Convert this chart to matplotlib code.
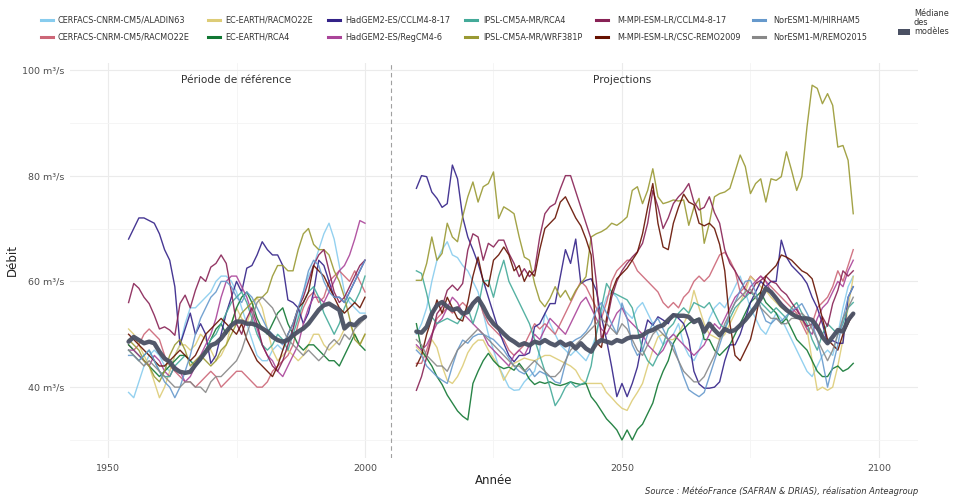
import numpy as np
import matplotlib
matplotlib.use("Agg")
import matplotlib.pyplot as plt
from matplotlib.lines import Line2D
from matplotlib.patches import Rectangle

# ---------------------------------------------------------------- data
years_ref = np.arange(1954, 2001)
years_proj = np.arange(2010, 2096)

model_names = [
    "CERFACS-CNRM-CM5/ALADIN63", "CERFACS-CNRM-CM5/RACMO22E",
    "EC-EARTH/RACMO22E", "EC-EARTH/RCA4",
    "HadGEM2-ES/CCLM4-8-17", "HadGEM2-ES/RegCM4-6",
    "IPSL-CM5A-MR/RCA4", "IPSL-CM5A-MR/WRF381P",
    "M-MPI-ESM-LR/CCLM4-8-17", "M-MPI-ESM-LR/CSC-REMO2009",
    "NorESM1-M/HIRHAM5", "NorESM1-M/REMO2015",
]
model_colors = ["#88CCEE", "#CC6677", "#DDCC77", "#117733", "#332288", "#AA4499",
                "#44AA99", "#999933", "#882255", "#661100", "#6699CC", "#888888"]

# reference period 1954-2000 (m3/s)
ref_aladin = [39, 38, 41, 44, 46, 47, 46, 44, 43, 46,
              48, 52, 55, 55, 56, 57, 58, 60, 61, 61,
              60, 58, 55, 52, 49, 46, 45, 45, 47, 48,
              47, 49, 51, 54, 58, 61, 63, 66, 69, 71,
              68, 63, 58, 56, 55, 54, 54]
ref_cnrm_racmo = [48, 47, 48, 50, 51, 50, 49, 46, 44, 43,
                  42, 41, 41, 40, 41, 42, 43, 42, 40, 41,
                  42, 43, 43, 42, 41, 40, 40, 41, 43, 44,
                  45, 46, 48, 52, 55, 57, 58, 56, 57, 60,
                  61, 62, 61, 60, 62, 60, 58]
ref_ec_racmo = [51, 50, 48, 46, 44, 41, 38, 40, 43, 46,
                48, 48, 47, 48, 50, 49, 47, 45, 46, 48,
                52, 55, 53, 52, 55, 57, 55, 51, 47, 45,
                46, 47, 46, 45, 46, 48, 50, 50, 48, 47,
                48, 49, 51, 52, 50, 48, 50]
ref_ec_rca = [48, 47, 46, 45, 44, 43, 42, 43, 44, 45,
              46, 46, 45, 44, 45, 47, 49, 51, 52, 50,
              52, 55, 57, 58, 56, 53, 51, 50, 52, 54,
              55, 52, 50, 48, 47, 48, 48, 47, 46, 45,
              45, 44, 46, 48, 50, 48, 47]
ref_had_cclm = [68, 70, 72, 72, 71.5, 71, 69, 66, 64, 59,
                48, 51, 54, 50, 52, 50, 44.5, 46, 50, 54,
                57, 60, 58, 62.5, 63, 65, 67.5, 66, 65, 65,
                63, 56.5, 56, 55, 52, 54, 58, 64, 63, 60,
                57, 57, 56, 58, 60, 62, 64]
ref_had_regcm = [47, 47, 46, 45, 44, 46, 45, 43, 42, 44,
                 43, 41, 42, 44, 46, 48, 50, 53, 57, 60,
                 61, 61, 59, 57, 54, 51, 48, 46, 45, 43,
                 42, 44, 46, 48, 52, 55, 57, 57, 56, 58,
                 60, 62, 63, 65, 68, 71.5, 71]
ref_ipsl_rca = [47, 46, 45, 46, 47, 45, 43, 42, 42, 44,
                45, 46, 45, 44, 45, 47, 49, 50, 52, 54,
                56, 57, 58, 56, 53, 50, 48, 47, 48, 50,
                49, 47, 50, 53, 56, 58, 59, 57, 54, 52,
                50, 52, 55, 57, 56, 58, 61]
ref_ipsl_wrf = [49, 48, 47, 45, 44, 42, 41, 43, 46, 48,
                49, 47, 44, 45, 46, 45, 44, 45, 47, 48,
                50, 52, 54, 55, 56, 57, 57, 58, 61, 63,
                63, 62, 62, 66, 69, 70, 67, 66, 66, 65,
                62, 60, 57, 53, 49, 48, 50]
ref_mpi_cclm = [56, 59.6, 58.7, 57, 55.8, 53.6, 51, 51.4, 50.8, 49.8,
                55.8, 57.4, 55, 58.3, 60.9, 60, 62.7, 63.4, 65, 63.4,
                58, 52, 50, 53, 55, 52, 48, 46, 44, 43,
                45, 48, 51, 55, 57, 60, 63, 65, 66, 62,
                58, 56, 57, 59, 61, 63, 64]
ref_mpi_remo = [50, 49, 48, 47, 46, 45, 44, 44, 45, 46,
                47, 46, 45, 46, 48, 50, 51, 52, 53, 52,
                51, 50, 52, 49, 47, 45, 44, 43, 42, 44,
                47, 50, 52, 55, 56, 58, 63, 62, 61, 59,
                57, 55, 54, 55, 56, 55, 57]
ref_nor_hirham = [46, 46, 45, 46, 47, 45, 43, 41, 40, 38,
                  40, 43, 46, 50, 53, 55, 57, 58, 60, 60,
                  59, 57, 56, 58, 57, 55, 53, 51, 50, 49,
                  48, 50, 52, 55, 58, 62, 64, 63, 60, 58,
                  57, 57, 56, 58, 60, 62, 64]
ref_nor_remo = [47, 46, 45, 44, 45, 44, 43, 42, 41, 40,
                40, 41, 41, 40, 40, 39, 41, 42, 42, 43,
                44, 45, 47, 50, 53, 56, 57, 56, 55, 53,
                51, 49, 48, 47, 46, 47, 46, 45, 46, 48,
                49, 48, 50, 49, 51, 52, 53]
ref_median = [48.6, 49.5, 48.9, 48.3, 48.6, 48.3, 46.7, 45.4, 44.8, 43.5,
              42.9, 42.7, 42.9, 44.2, 45.4, 46.7, 47.9, 48.3, 49.2, 50.5,
              51.7, 52.4, 52.4, 52.0, 52.0, 51.7, 51.1, 50.5, 49.5, 48.9,
              48.6, 48.9, 49.8, 50.5, 51.1, 52.0, 53.3, 54.6, 55.5, 55.8,
              55.2, 54.6, 51.1, 52.0, 51.7, 52.7, 53.3]

# projections 2010-2095 (m3/s)
proj_aladin = [50, 52, 55, 60, 64, 66, 67.5, 65, 64.5, 63,
               62, 60, 58, 54, 50, 47, 44, 42, 40, 39.4,
               39.5, 41, 42, 43, 47, 54, 52, 50, 48, 47,
               46, 47, 46, 45, 47, 50, 54, 57, 58, 57,
               55, 54, 53, 55, 56, 54, 52, 50, 48, 49,
               50, 52, 48, 46, 45, 47, 50, 53, 55, 56,
               55, 57, 59, 61, 58, 55, 53, 51, 50, 52,
               54, 53, 51, 49, 47, 45, 43, 42, 44, 46,
               47, 46, 50, 55, 59, 61]
proj_cnrm_racmo = [44.5, 44.5, 47, 50, 53, 54, 55, 54, 55, 56,
                   55, 56, 57, 54, 52, 51, 50, 49, 47, 46,
                   47, 48, 50, 52, 51, 52, 51, 50, 52, 54,
                   56, 58, 60, 59, 57, 55, 53, 56, 60, 62,
                   63, 64, 64, 62, 61, 60, 59, 58, 56, 55,
                   56, 55, 57, 58, 60, 61, 60, 61, 63, 65,
                   65.5, 64, 62, 58, 59, 61, 60, 61, 60, 59,
                   58, 57, 56, 55, 54, 52, 50, 52, 55, 56,
                   57, 59, 62, 60, 63, 66]
proj_ec_racmo = [47.6, 46.5, 45.7, 49, 47.5, 44, 41.3, 40.7, 42, 44,
                 46.5, 48, 48.9, 48.9, 47, 45.5, 44, 41.3, 43, 44.5,
                 45, 45.5, 45.2, 45, 45.5, 46, 46, 45.5, 45, 44.5,
                 44, 43.2, 41.5, 40.7, 40.7, 40.7, 40.7, 39, 38, 36.9,
                 36, 35.6, 37.5, 39, 40.7, 44, 47, 49.5, 50, 49,
                 49, 50, 52, 54, 58.3, 55, 52, 50, 49.5, 49,
                 50, 52, 54, 56, 58, 60.9, 60, 59, 58.3, 57,
                 56, 55, 54.5, 54, 53.5, 52.5, 51, 45, 39.4, 40,
                 39.4, 40, 44, 49, 55, 60.9]
proj_ec_rca = [52, 47, 45.5, 44, 42, 40.5, 38.5, 37, 35.5, 34.5,
               33.8, 40.7, 43, 45, 46.4, 45, 44, 43.5, 43.8, 43.2,
               44.5, 43.2, 41.5, 40.5, 41, 40.7, 41, 40.5, 40.3, 40.6,
               41, 40.7, 40.5, 40.7, 38.2, 37, 35.5, 34, 33, 31.9,
               30, 31.9, 30, 32, 33, 35, 37, 40.5, 43, 45,
               48.3, 50, 51, 52, 52.7, 53, 49, 49, 47, 46,
               47, 48, 50, 52, 54, 56, 57, 58, 56, 55,
               54, 52, 53, 51, 49, 48, 47, 45, 43, 42,
               42, 43.5, 44, 43, 43.5, 44.5]
proj_had_cclm = [77.6, 80, 79.8, 76.9, 75.7, 74, 74.7, 82, 79.4, 72.2,
                 68.4, 66, 63.4, 60.2, 57, 53.9, 50.8, 48.3, 46, 44.8,
                 46, 46, 46.5, 51.4, 52, 53.9, 55.8, 55.8, 60.9, 66,
                 63.4, 68, 59.6, 60.2, 60.5, 58.3, 53.3, 48.9, 43.8, 38.2,
                 40.7, 38.2, 40.7, 43.8, 48.9, 52.7, 51.7, 53.3, 52.7, 52,
                 53.9, 53, 52, 49, 43, 40.6, 39.8, 39.8, 40, 41,
                 45, 48, 48, 50, 53, 56, 58, 60, 59, 60,
                 60, 67.8, 64.6, 63, 62, 61, 59.6, 57, 55, 52,
                 48.3, 48.8, 48.3, 48.3, 57, 59]
proj_had_regcm = [48, 47, 48, 50, 52, 53, 55, 57, 56, 54,
                  53, 52, 51, 50, 48, 47, 46, 45, 44, 46,
                  47, 46, 48, 50, 49, 51, 53, 52, 51, 50,
                  52, 54, 56, 57, 55, 53, 51, 50, 52, 54,
                  55, 53, 52, 51, 50, 48, 47, 46, 47, 49,
                  50, 49, 48, 47, 46, 47, 48, 50, 52, 51,
                  53, 55, 57, 58, 57, 59, 60, 61, 60, 58,
                  57, 56, 55, 54, 55, 53, 51, 50, 53, 55,
                  56, 58, 60, 59, 62, 64]
proj_ipsl_rca = [62, 61.5, 57.7, 53.3, 52, 52.5, 53, 52.5, 52, 53.5,
                 55, 52, 55, 60, 60.2, 57, 61, 64, 60, 58,
                 56, 54, 52, 49, 46, 43, 40, 36.5, 38, 40,
                 41, 40, 40.5, 41, 44, 50, 55, 59.6, 58, 57.5,
                 57, 56.5, 55, 51, 47, 45, 44, 46, 48, 51,
                 52, 54, 55, 54, 56, 55.5, 55, 56, 54, 52,
                 51, 53, 55, 56, 57, 58, 57, 56, 55, 54,
                 55, 54, 53, 55, 56, 54, 52, 49, 47, 50,
                 52, 51, 50, 52, 55, 56]
proj_ipsl_wrf = [60.2, 60.2, 63.4, 68.4, 64, 65.3, 71, 68.4, 67.5, 72.2,
                 76, 78.8, 75, 77.9, 78.5, 80.7, 71.9, 74.1, 73.5, 72.8,
                 68.4, 64.6, 64, 59.6, 56.4, 55.2, 56.8, 59, 57, 58.3,
                 56.4, 58.3, 59.6, 60.9, 68.4, 69, 69.4, 70, 71, 70.6,
                 71.3, 72.2, 77.2, 77.9, 74.7, 77.2, 81.3, 76, 74.7, 75,
                 75.4, 75.2, 75.4, 70.6, 74, 75.7, 67.2, 71, 76, 76.6,
                 76.9, 77.6, 80.7, 83.9, 81.7, 76.6, 78.5, 79.4, 75, 79.4,
                 79.1, 79.8, 84.5, 81, 77.2, 79.8, 89.2, 97.1, 96.5, 93.6,
                 95.5, 93.3, 85.4, 85.7, 82.9, 72.8]
proj_mpi_cclm = [39.4, 42, 45.7, 49.5, 53.9, 55.2, 58.3, 59.3, 58.3, 59.6,
                 65.9, 69, 68.4, 64, 67.2, 66.5, 67.8, 67.8, 65.3, 63.4,
                 60.9, 62.4, 60.9, 62.1, 68.4, 72.8, 74.1, 74.7, 77.5, 80,
                 80, 77, 74, 71, 68, 60, 49, 52, 57, 60,
                 62, 63.4, 64.6, 65.6, 67.2, 71, 77.2, 74.1, 70, 72,
                 74.7, 76, 77, 78.5, 75, 73.5, 74, 76, 73, 71,
                 66, 63.4, 62, 60.2, 58.5, 57.7, 59.6, 60.2, 61, 60,
                 59.6, 58.3, 57.5, 56, 54.6, 53, 51.5, 52, 50.8, 53.3,
                 51.5, 55.8, 58.3, 62, 61, 62]
proj_mpi_remo = [44, 46, 50, 53, 56.5, 54, 57, 55, 53, 52.5,
                 56, 61, 64.6, 60, 59, 64, 65, 66.5, 65, 62,
                 63, 60, 62, 61, 66, 70, 71, 72, 75, 76,
                 74, 72, 70.5, 68, 65, 48.5, 47.5, 53, 58, 60.5,
                 61.5, 62.5, 64, 65.5, 69, 74, 78.5, 71, 66.5, 66,
                 71, 74, 76.5, 75, 74.5, 71, 70.5, 71, 70, 67,
                 62, 52, 46, 45, 47, 49, 53, 58, 61, 62,
                 63, 65, 64.6, 64, 63, 62, 61.5, 60.5, 57, 53,
                 49, 48, 47, 50, 52, 54]
proj_nor_hirham = [47, 46, 44, 43, 42, 41.3, 40.7, 44, 47, 48.9,
                   48.3, 49.5, 50, 50, 49.5, 49, 48, 47, 45.5, 44,
                   43, 42.5, 43.5, 42, 43, 42.5, 42, 41, 40.7, 44.5,
                   48.3, 49, 49.5, 50.5, 52, 54.5, 56, 54, 52, 50,
                   55.9, 53, 48, 46, 47, 50, 52, 53, 51, 49,
                   48, 45, 42, 39.5, 38.8, 38.2, 39, 42, 45, 48,
                   51, 54, 56, 58.3, 60, 60.2, 58, 55, 52.5, 52,
                   53, 52.5, 53.5, 54.5, 55, 55.8, 54, 52, 49, 45,
                   40, 44, 48, 53, 57, 59]
proj_nor_remo = [49, 48, 46, 45, 44, 44, 43, 45, 47, 48,
                 49, 50, 51, 50, 49, 48, 47, 46, 45, 44,
                 44, 43, 44, 45, 44, 43, 42, 42, 43, 45,
                 47, 48, 49, 50, 51, 52, 53, 52, 51, 50,
                 52, 51, 49, 47, 46, 48, 50, 51, 50, 49,
                 47, 45, 43, 42, 41, 41, 42, 44, 46, 49,
                 52, 54, 56, 57, 58, 58.5, 57, 55, 54, 53,
                 53, 52, 52, 53, 53, 54, 53, 51, 49, 47,
                 45, 47, 50, 53, 55, 57]
proj_median = [50.5, 50.3, 51.4, 53.9, 55.5, 56.1, 55.2, 54.6, 54.9, 53.9,
               54.2, 55.8, 56.8, 55.2, 53.3, 52.0, 51.1, 50.1, 49.2, 48.6,
               47.9, 48.3, 47.9, 48.6, 48.3, 48.9, 48.3, 47.9, 48.6, 47.9,
               48.3, 47.3, 48.3, 47.3, 46.7, 48.3, 48.9, 48.6, 48.3, 48.9,
               48.6, 49.2, 49.5, 49.5, 49.8, 50.5, 50.8, 51.4, 51.7, 52.7,
               53.6, 53.5, 53.5, 53.3, 52.3, 52.8, 50.5, 52.0, 50.8, 49.8,
               51.0, 50.5, 50.8, 51.7, 52.7, 53.9, 55.2, 56.8, 58.7, 58.0,
               56.8, 55.5, 54.6, 53.9, 53.3, 53.0, 53.0, 52.7, 51.4, 49.5,
               48.3, 49.5, 50.8, 50.5, 52.7, 53.9]

ref_series = [ref_aladin, ref_cnrm_racmo, ref_ec_racmo, ref_ec_rca, ref_had_cclm,
              ref_had_regcm, ref_ipsl_rca, ref_ipsl_wrf, ref_mpi_cclm, ref_mpi_remo,
              ref_nor_hirham, ref_nor_remo]
proj_series = [proj_aladin, proj_cnrm_racmo, proj_ec_racmo, proj_ec_rca, proj_had_cclm,
               proj_had_regcm, proj_ipsl_rca, proj_ipsl_wrf, proj_mpi_cclm, proj_mpi_remo,
               proj_nor_hirham, proj_nor_remo]

y_ticks = [40, 60, 80, 100]
y_tick_labels = ["40 m³/s", "60 m³/s", "80 m³/s", "100 m³/s"]
x_ticks = [1950, 2000, 2050, 2100]

# ---------------------------------------------------------------- figure
W, H = 957, 497
fig = plt.figure(figsize=(W / 100, H / 100), dpi=100)
fig.patch.set_facecolor("white")


def fx(px):
    return px / W


def fy(py):
    return 1 - py / H


ax = fig.add_axes([fx(70), fy(458), fx(918) - fx(70), fy(63) - fy(458)])
ax.set_facecolor("white")
for s in ax.spines.values():
    s.set_visible(False)

ax.set_xlim(1942.6, 2107.6)
ax.set_ylim(26.6, 101.3)

ax.set_xticks(x_ticks)
ax.set_xticks([1975, 2025, 2075], minor=True)
ax.set_yticks(y_ticks)
ax.set_yticklabels(y_tick_labels)
ax.set_yticks([30, 50, 70, 90], minor=True)
ax.grid(which="major", color="#EBEBEB", linewidth=0.8)
ax.grid(which="minor", color="#F4F4F4", linewidth=0.6)
ax.set_axisbelow(True)
ax.tick_params(which="both", length=0, colors="#4D4D4D", labelsize=6.8, pad=4)

for name, col, r, p in zip(model_names, model_colors, ref_series, proj_series):
    ax.plot(years_ref, r, color=col, lw=1.0, alpha=0.9, solid_joinstyle="round")
    ax.plot(years_proj, p, color=col, lw=1.0, alpha=0.9, solid_joinstyle="round")

median_color = "#4A5063"
ax.plot(years_ref, ref_median, color=median_color, lw=3.2, alpha=0.95,
        solid_joinstyle="round", solid_capstyle="round")
ax.plot(years_proj, proj_median, color=median_color, lw=3.2, alpha=0.95,
        solid_joinstyle="round", solid_capstyle="round")

ax.axvline(2005, color="#A0A0A0", lw=0.8, ls=(0, (4, 3)))

ax.text(1975, 98.1, "Période de référence", ha="center", va="center",
        fontsize=7.6, color="#333333")
ax.text(2050, 98.1, "Projections", ha="center", va="center",
        fontsize=7.6, color="#333333")

ax.set_ylabel("Débit", fontsize=8.5, color="#222222", labelpad=2)
ax.set_xlabel("Année", fontsize=8.5, color="#222222", labelpad=1)

fig.text(fx(918), fy(491), "Source : MétéoFrance (SAFRAN & DRIAS), réalisation Anteagroup",
         ha="right", va="center", fontsize=6.0, style="italic", color="#333333")

# ---------------------------------------------------------------- legend
col_marker_x = [41, 208, 328, 465, 596, 753]
col_text_x = [58, 225, 345, 483, 617, 773]
row_y = [20, 37]
for i, (name, col) in enumerate(zip(model_names, model_colors)):
    c, r = divmod(i, 2)
    yy = fy(row_y[r])
    fig.add_artist(Line2D([fx(col_marker_x[c]), fx(col_marker_x[c] + 12)], [yy, yy],
                          color=col, lw=2.2, transform=fig.transFigure))
    fig.text(fx(col_text_x[c]), yy, name, ha="left", va="center",
             fontsize=5.9, color="#333333")

fig.add_artist(Rectangle((fx(898), fy(35)), fx(12), fy(29) - fy(35),
                         facecolor=median_color, edgecolor="none",
                         transform=fig.transFigure))
for txt, py in zip(["Médiane", "des", "modèles"], [14, 22.5, 31]):
    fig.text(fx(914), fy(py), txt, ha="left", va="center", fontsize=5.9,
             color="#333333")

fig.savefig("out.png", dpi=100, facecolor="white")
